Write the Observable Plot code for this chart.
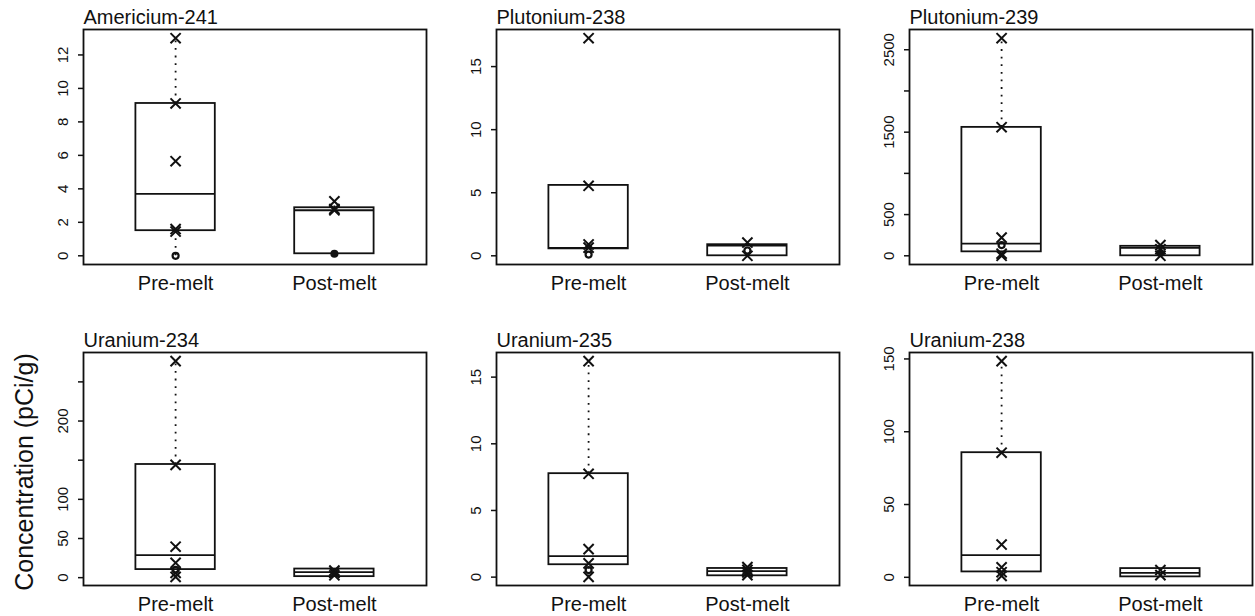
<!DOCTYPE html>
<html><head><meta charset="utf-8">
<script src="https://cdn.jsdelivr.net/npm/d3@7"></script>
<script src="https://cdn.jsdelivr.net/npm/@observablehq/plot@0.6"></script>
<style>
body{margin:0;background:#fff;width:1255px;height:616px;overflow:hidden;position:relative;font-family:"Liberation Sans",Arial,Helvetica,sans-serif;color:#111;}
.panel{position:absolute;}
#ylab{position:absolute;left:-126px;top:457px;width:300px;height:30px;line-height:30px;font-size:25px;text-align:center;transform:rotate(-90deg);white-space:nowrap;}
</style></head><body>
<div id="ylab">Concentration (pCi/g)</div>
<script>
// ---- data ----
const nuclides = ["Americium-241", "Plutonium-238", "Plutonium-239", "Uranium-234", "Uranium-235", "Uranium-238"];
const periods = ["Pre-melt", "Post-melt"];

// box statistics per nuclide: [pre, post]
const boxLow    = [[0, 0.12], [0.55, 0], [0, 0], [1, 1.3], [0.02, 0.1], [1, 0.3]];
const boxQ1     = [[1.5, 0.12], [0.55, 0], [48, 0], [10.3, 1.3], [0.93, 0.1], [3.7, 0.3]];
const boxMedian = [[3.7, 2.72], [0.62, 0.8], [148, 95], [28.7, 7], [1.58, 0.45], [15.2, 3]];
const boxQ3     = [[9.1, 2.87], [5.58, 0.88], [1558, 115], [144.5, 11], [7.76, 0.65], [85.6, 6]];
const boxHigh   = [[13.0, 3.25], [5.58, 1.05], [2640, 130], [276.5, 11], [16.2, 0.75], [148.5, 6]];

// individual samples and their markers (x = detected, o = open circle, • = filled dot)
const preValues  = [[13.0, 9.1, 5.65, 1.6, 1.45, 0], [17.25, 5.55, 0.9, 0.65, 0.1], [2640, 1560, 220, 130, 25, 0],
                    [276.5, 144, 39.5, 19, 10, 6, 1], [16.2, 7.75, 2.1, 1.03, 0.53, 0.02], [148.5, 85.6, 22.5, 6.9, 3.5, 1.0]];
const preMarkers = [["x","x","x","x","x","o"], ["x","x","x","x","o"], ["x","x","x","o","x","x"],
                    ["x","x","x","x","o","x","x"], ["x","x","x","x","o","x"], ["x","x","x","x","x","x"]];
const postValues  = [[3.25, 2.8, 2.72, 0.12], [1.05, 0.42, 0], [130, 80, 35, 0], [9, 6, 3], [0.75, 0.55, 0.35, 0.15], [5, 1.5]];
const postMarkers = [["x","x","x","•"], ["x","o","x"], ["x","x","•","x"], ["x","x","x"], ["x","x","x","x"], ["x","x"]];

const yTicks = [[0,2,4,6,8,10,12], [0,5,10,15], [0,500,1000,1500,2000,2500], [0,50,100,150,200,250], [0,5,10,15], [0,50,100,150]];
const yTickLabels = [[0,2,4,6,8,10,12], [0,5,10,15], [0,500,1500,2500], [0,50,100,200], [0,5,10,15], [0,50,100,150]];

// ---- layout ----
const frameLefts = [83, 496, 909];
const frameTops = [29, 352];
const frameW = 343, frameHs = [235, 233];
const mL = 50, mR = 2, mT = 32, mB = 34;
const ink = "#111";
const font = '"Liberation Sans", Arial, Helvetica, sans-serif';
const lw = 1.8;

nuclides.forEach((name, k) => {
  const row = Math.floor(k / 3), col = k % 3;
  const boxes = periods.map((p, i) => ({
    period: p, pos: i + 1,
    lo: boxLow[k][i], q1: boxQ1[k][i], med: boxMedian[k][i], q3: boxQ3[k][i], hi: boxHigh[k][i]
  }));
  const pts = [];
  preValues[k].forEach((v, j) => pts.push({pos: 1, v, m: preMarkers[k][j]}));
  postValues[k].forEach((v, j) => pts.push({pos: 2, v, m: postMarkers[k][j]}));
  const all = [...pts.map(d => d.v), ...boxes.flatMap(b => [b.lo, b.hi])];
  const [mn, mx] = d3.extent(all);
  const pad = 0.04 * (mx - mn);

  const chart = Plot.plot({
    width: frameW + mL + mR,
    height: frameHs[row] + mT + mB,
    marginLeft: mL, marginRight: mR, marginTop: mT, marginBottom: mB,
    style: {fontFamily: font, background: "transparent", overflow: "visible", color: ink},
    x: {domain: [0.42, 2.58], label: null},
    y: {domain: [mn - pad, mx + pad], label: null},
    marks: [
      Plot.axisY({ticks: yTicks[k], tickFormat: d => yTickLabels[k].includes(d) ? String(d) : "",
        tickSize: 5, tickPadding: 11, tickRotate: -90, fontSize: 15, strokeWidth: 1.5, label: null}),
      Plot.axisX({ticks: [1, 2], tickFormat: d => periods[d - 1], tickSize: 0, tickPadding: 11, fontSize: 20, label: null}),
      Plot.ruleX(boxes, {x: "pos", y1: "q3", y2: "hi", stroke: ink, strokeWidth: 1.8, strokeDasharray: "1.8,5.8"}),
      Plot.ruleX(boxes, {x: "pos", y1: "lo", y2: "q1", stroke: ink, strokeWidth: 1.8, strokeDasharray: "1.8,5.8"}),
      Plot.rect(boxes, {x1: d => d.pos - 0.25, x2: d => d.pos + 0.25, y1: "q1", y2: "q3", fill: "none", stroke: ink, strokeWidth: lw}),
      Plot.ruleY(boxes, {y: "med", x1: d => d.pos - 0.25, x2: d => d.pos + 0.25, stroke: ink, strokeWidth: lw}),
      Plot.dot(pts.filter(d => d.m === "x"), {x: "pos", y: "v", symbol: "times", r: 4.7, stroke: ink, strokeWidth: 2}),
      Plot.dot(pts.filter(d => d.m === "o"), {x: "pos", y: "v", symbol: "circle", r: 3, fill: "none", stroke: ink, strokeWidth: 2.2}),
      Plot.dot(pts.filter(d => d.m === "•"), {x: "pos", y: "v", symbol: "circle", r: 4, fill: ink, stroke: "none"}),
      Plot.frame({stroke: ink, strokeWidth: lw}),
      Plot.text([name], {frameAnchor: "top-left", text: d => d, dy: -6, lineAnchor: "bottom", textAnchor: "start", fontSize: 20, fill: ink})
    ]
  });
  const div = document.createElement("div");
  div.className = "panel";
  div.style.left = (frameLefts[col] - mL) + "px";
  div.style.top = (frameTops[row] - mT) + "px";
  div.appendChild(chart);
  document.body.appendChild(div);
});
</script>
</body></html>
